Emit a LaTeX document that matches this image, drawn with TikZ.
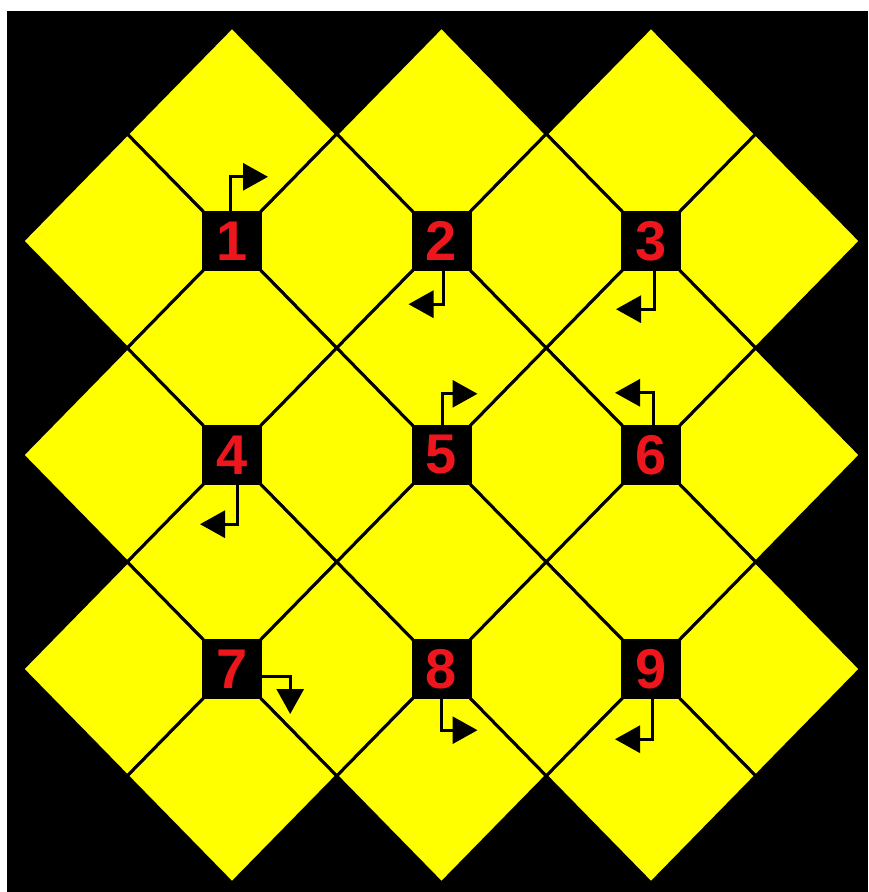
\documentclass[tikz,border=0pt]{standalone}
\usepackage{fontspec}
\setmainfont{Liberation Sans}
\usetikzlibrary{arrows.meta}
\definecolor{tileyellow}{RGB}{255,255,0}
\definecolor{numred}{RGB}{236,22,28}
\begin{document}
\begin{tikzpicture}[x=1pt,y=-1pt,
  tile/.style={fill=tileyellow,draw=black,line width=3pt,line join=miter},
  numbox/.style={fill=black,minimum size=60pt,inner sep=0pt,text=numred,
    font=\fontsize{56}{56}\selectfont\bfseries},
  flag/.style={draw=black,line width=3pt,-{Triangle[length=25pt,width=27pt]}}]
\useasboundingbox (0,0) rectangle (868,892);
\fill[white] (0,0) rectangle (868,892);
\fill[black] (7,11) rectangle (868,892);
% diamond tiles
\foreach \i/\j in {0/-1,2/-1,4/-1,-1/0,1/0,3/0,5/0,0/1,2/1,4/1,-1/2,1/2,3/2,5/2,0/3,2/3,4/3,-1/4,1/4,3/4,5/4,0/5,2/5,4/5}
  \draw[tile] ({232+104.75*\i},{241+107*(\j-1)}) -- ++(104.75,107) -- ++(-104.75,107) -- ++(-104.75,-107) -- cycle;
% numbered boxes
\node[numbox] (b1) at (232,241) {1};
\node[numbox] (b2) at (441.5,241) {2};
\node[numbox] (b3) at (651,241) {3};
\node[numbox] (b4) at (232,455) {4};
\node[numbox] (b5) at (441.5,455) {5};
\node[numbox] (b6) at (651,455) {6};
\node[numbox] (b7) at (232,669) {7};
\node[numbox] (b8) at (441.5,669) {8};
\node[numbox] (b9) at (651,669) {9};
% direction flags
\draw[flag] ([xshift=-2pt]b1.north) -- ++(0,-34) -- ++(38,0);
\draw[flag] ([xshift=2pt]b2.south) -- ++(0,33) -- ++(-35,0);
\draw[flag] ([xshift=3pt]b3.south) -- ++(0,38) -- ++(-38,0);
\draw[flag] ([xshift=5pt]b4.south) -- ++(0,39) -- ++(-37,0);
\draw[flag] ([xshift=1pt]b5.north) -- ++(0,-31) -- ++(35,0);
\draw[flag] ([xshift=2pt]b6.north) -- ++(0,-32) -- ++(-38,0);
\draw[flag] ([yshift=-7pt]b7.east) -- ++(28,0) -- ++(0,38);
\draw[flag] (b8.south) -- ++(0,31) -- ++(36,0);
\draw[flag] ([xshift=1pt]b9.south) -- ++(0,40) -- ++(-37,0);
\end{tikzpicture}
\end{document}
